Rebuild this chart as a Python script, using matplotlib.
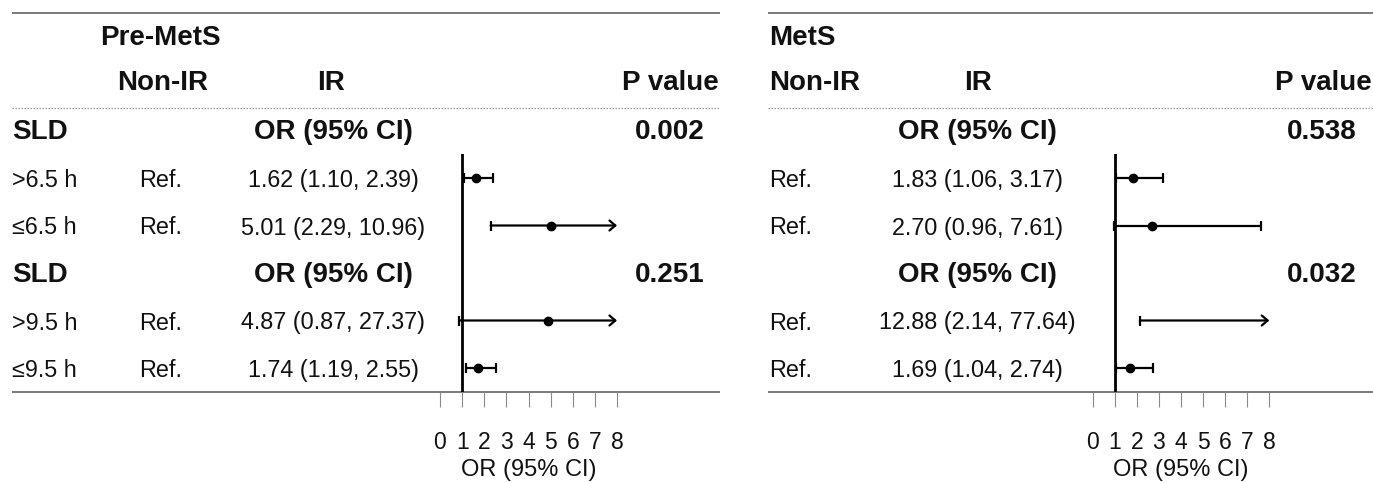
import matplotlib
matplotlib.use("Agg")
import matplotlib.pyplot as plt

plt.rcParams['font.family'] = ['Liberation Sans', 'DejaVu Sans']

# ---------------- data ----------------
row_labels = ['>6.5 h', '≤6.5 h', '>9.5 h', '≤9.5 h']
section_label = 'SLD'
ref_text = 'Ref.'

pre_or = [1.62, 5.01, 4.87, 1.74]
pre_lo = [1.10, 2.29, 0.87, 1.19]
pre_hi = [2.39, 10.96, 27.37, 2.55]
pre_p = ['0.002', '0.251']

mets_or = [1.83, 2.70, 12.88, 1.69]
mets_lo = [1.06, 0.96, 2.14, 1.04]
mets_hi = [3.17, 7.61, 77.64, 2.74]
mets_p = ['0.538', '0.032']

panel_titles = ['Pre-MetS', 'MetS']
x_ticks = [0, 1, 2, 3, 4, 5, 6, 7, 8]
x_max = 8
data_rows = [1, 2, 4, 5]      # row positions of the estimates
section_rows = [0, 3]        # row positions of the section headers

# ---------------- layout ----------------
W, H = 1373, 483
fig = plt.figure(figsize=(W / 100, H / 100), dpi=100)

ov = fig.add_axes([0, 0, 1, 1])
ov.set_xlim(0, W)
ov.set_ylim(H, 0)
ov.axis('off')

def yrow(r):
    return 130.5 + 47.5 * r

REG = 16.8
TICK = 16.5
BOLD = 20
TXT = '#111111'
LINEGRAY = '#707070'

panels = [
    dict(x0=12, x1=720, title_x=100, nonir_x=162.5, nonir_ha='center', ir_x=331,
         or_x=333, p_x=669.5, ref_x=139, lab_x=12, fx0=440, fx1=617,
         ors=pre_or, los=pre_lo, his=pre_hi, ps=pre_p, labels=True),
    dict(x0=768, x1=1373, title_x=769, nonir_x=769, nonir_ha='left', ir_x=978,
         or_x=977.5, p_x=1322, ref_x=769, lab_x=None, fx0=1092.7, fx1=1269.3,
         ors=mets_or, los=mets_lo, his=mets_hi, ps=mets_p, labels=False),
]

y_top_px, y_bot_px = 154, 392

for i, pn in enumerate(panels):
    # rules
    ov.hlines(12.5, pn['x0'], pn['x1'], color=LINEGRAY, lw=1.3)
    ov.hlines(107.5, pn['x0'], pn['x1'], color='#9a9a9a', lw=0.9,
              linestyles=(0, (1.2, 1.2)))
    ov.hlines(y_bot_px, pn['x0'], pn['x1'], color=LINEGRAY, lw=1.3)

    # headers
    ov.text(pn['title_x'], 38, panel_titles[i], fontsize=BOLD, fontweight='bold',
            ha='left', va='center', color=TXT)
    ov.text(pn['nonir_x'], 83, 'Non-IR', fontsize=BOLD, fontweight='bold',
            ha=pn['nonir_ha'], va='center', color=TXT)
    ov.text(pn['ir_x'], 83, 'IR', fontsize=BOLD, fontweight='bold',
            ha='center', va='center', color=TXT)
    ov.text(pn['x1'] - 1, 83, 'P value', fontsize=BOLD, fontweight='bold',
            ha='right', va='center', color=TXT)

    for k, r in enumerate(section_rows):
        y = yrow(r) + 1.5
        if pn['labels']:
            ov.text(pn['lab_x'], y, section_label, fontsize=BOLD,
                    fontweight='bold', ha='left', va='center', color=TXT)
        ov.text(pn['or_x'], y, 'OR (95% CI)', fontsize=BOLD, fontweight='bold',
                ha='center', va='center', color=TXT)
        ov.text(pn['p_x'], y, pn['ps'][k], fontsize=BOLD, fontweight='bold',
                ha='center', va='center', color=TXT)

    for j, r in enumerate(data_rows):
        y = yrow(r) + 2.5
        if pn['labels']:
            ov.text(pn['lab_x'], y, row_labels[j], fontsize=REG, ha='left',
                    va='center', color=TXT)
        ov.text(pn['ref_x'], y, ref_text, fontsize=REG, ha='left',
                va='center', color=TXT)
        s = f"{pn['ors'][j]:.2f} ({pn['los'][j]:.2f}, {pn['his'][j]:.2f})"
        ov.text(pn['or_x'], y, s, fontsize=REG, ha='center', va='center',
                color=TXT)

    # forest axes
    fx0, fx1 = pn['fx0'], pn['fx1']
    ax = fig.add_axes([fx0 / W, 1 - y_bot_px / H, (fx1 - fx0) / W,
                       (y_bot_px - y_top_px) / H])
    ax.set_xlim(0, x_max)
    r_top = (y_top_px - 130.5) / 47.5
    r_bot = (y_bot_px - 130.5) / 47.5
    ax.set_ylim(r_bot, r_top)
    ax.patch.set_alpha(0)
    for sp in ax.spines.values():
        sp.set_visible(False)
    ax.set_yticks([])
    ax.set_xticks(x_ticks)
    ax.set_xticklabels([str(t) for t in x_ticks])
    ax.tick_params(axis='x', direction='out', length=10.8, width=0.8,
                   color='#8a8a8a', labelsize=TICK, pad=17, labelcolor=TXT)
    ax.set_xlabel('OR (95% CI)', fontsize=17, labelpad=4, color=TXT)

    ax.axvline(1, color='black', lw=2.0, zorder=3)

    for j, r in enumerate(data_rows):
        lo, hi, est = pn['los'][j], pn['his'][j], pn['ors'][j]
        if hi > x_max:
            ax.annotate('', xy=(x_max, r), xytext=(lo, r),
                        arrowprops=dict(arrowstyle='->,head_length=0.35,head_width=0.3',
                                        lw=1.6, color='black',
                                        shrinkA=0, shrinkB=0, mutation_scale=12),
                        annotation_clip=False)
        else:
            ax.plot([lo, hi], [r, r], color='black', lw=1.6, clip_on=False,
                    solid_capstyle='butt')
            ax.plot([hi], [r], marker='|', color='black', markersize=7.5,
                    mew=1.6, clip_on=False)
        ax.plot([lo], [r], marker='|', color='black', markersize=7.5,
                mew=1.6, clip_on=False)
        if est <= x_max:
            ax.plot([est], [r], marker='o', color='black', markersize=6,
                    clip_on=False, zorder=4)

fig.savefig('out.png', dpi=100)
